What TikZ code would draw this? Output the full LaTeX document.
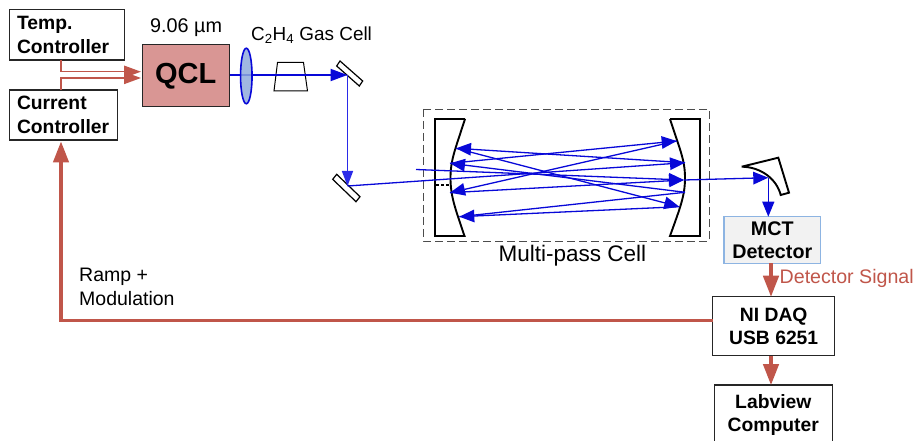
\documentclass[tikz,border=0pt]{standalone}
\usepackage{fontspec}
\setmainfont{Liberation Sans}
\usetikzlibrary{arrows.meta,calc,shapes.geometric}
\definecolor{redc}{HTML}{C0564A}
\definecolor{beam}{HTML}{0808D8}
\definecolor{beamlt}{HTML}{2A2AE8}
\definecolor{qclf}{HTML}{D99694}
\definecolor{lensf}{HTML}{8FAADC}
\definecolor{mctb}{HTML}{8DB4E2}
\tikzset{
 x=1pt,y=-1pt,
 boxn/.style={draw=black!85,line width=1.2pt,fill=white,font=\fontsize{19.3}{23.5}\selectfont\bfseries,inner sep=0pt,outer sep=0pt,anchor=north west},
 red arrow/.style={draw=redc,line width=3.2pt,-{Triangle[length=21pt,width=15.5pt]}},
 red thin/.style={draw=redc,line width=1.6pt,-{Triangle[length=17pt,width=12pt]}},
 ray/.style={draw=beam,line width=1.3pt},
 rayA/.style={ray,-{Triangle[length=15pt,width=12.5pt]}},
 lbl/.style={font=\fontsize{19.3}{23}\selectfont,inner sep=0pt,anchor=west,align=left},
 flat mirror/.style={draw=black,line width=1.2pt,fill=white},
 optic/.style={draw=black,line width=1.9pt},
}
\begin{document}
\begin{tikzpicture}
\useasboundingbox (0,0) rectangle (914,441);
\clip (0,0) rectangle (914,441);
% boxes
\node[boxn,minimum width=115pt,minimum height=50.5pt,align=left,text width=100pt,inner xsep=7.5pt] (temp) at (9.5,9.5) {Temp.\\Controller};
\node[boxn,minimum width=108pt,minimum height=50pt,align=left,text width=93pt,inner xsep=7.5pt] (cur) at (9.5,90) {Current\\Controller};
\node[draw=black!85,line width=1pt,fill=qclf,minimum width=87.5pt,minimum height=61.5pt,anchor=north west,font=\fontsize{29}{32}\selectfont\bfseries,inner sep=0pt,outer sep=0pt] (qcl) at (142,45) {QCL};
\node[lbl,font=\fontsize{19.8}{23}\selectfont] (wl) at (150,28) {9.06 µm};
\node[lbl,font=\fontsize{18.9}{22}\selectfont] (gas) at (251,35) {C\textsubscript{2}H\textsubscript{4} Gas Cell};
\node[boxn,draw=mctb,fill=black!5,minimum width=96.5pt,minimum height=46.5pt,align=center,font=\fontsize{19.7}{23.5}\selectfont\bfseries] (mct) at (724,216.7) {MCT\\[-.5pt]Detector};
\node[boxn,minimum width=122pt,minimum height=59pt,align=center] (daq) at (712.7,296.7) {NI DAQ\\USB 6251};
\node[boxn,minimum width=118pt,minimum height=60pt,align=center] (lab) at (714.3,385) {Labview\\Computer};
\node[lbl,text=redc,font=\fontsize{19.6}{23}\selectfont] (sig) at (779.5,278) {Detector Signal};
\node[lbl,font=\fontsize{19.5}{24}\selectfont] (ramp) at (79,287) {Ramp +\\Modulation};
\node[font=\fontsize{22.5}{26}\selectfont,inner sep=0pt] (mp) at (572.5,256) {Multi-pass Cell};
% red connectors
\coordinate (t1) at (61,60.5);
\coordinate (c1) at (61,90);
\coordinate (q1) at (141,71.7);
\coordinate (q2) at (141,78);
\coordinate (d1) at (713,320.5);
\coordinate (c2) at (61,141.5);
\draw[red thin] (t1) |- (q1);
\draw[red thin] (c1) |- (q2);
\draw[red arrow] (d1) -| (c2);
\draw[red arrow] (mct.south -| 771,0) -- (daq.north -| 771,0);
\draw[red arrow] (daq.south -| 771,0) -- (lab.north -| 771,0);
% multipass cell
\draw[draw=black!70,line width=.9pt,dash pattern=on 8pt off 4pt] (423,109) rectangle (709,241);
\draw[optic] (465,119) -- (435,119) -- (435,236) -- (464.5,236) .. controls (455,208) and (450.5,196) .. (450.5,178) .. controls (450.5,160) and (455,150) .. (465,119);
\draw[optic] (670,119) -- (700,119) -- (700,236) -- (670,236) .. controls (680,208) and (685,196) .. (685,178) .. controls (685,160) and (680,150) .. (670,119);
\draw[black,line width=1.2pt,dash pattern=on 3pt off 2pt] (436,185) -- (450,185);
\draw[black!50,line width=.8pt,dash pattern=on 3pt off 2pt] (436,170) -- (450,170);
% optics
\path[draw=black,line width=1pt] (277.5,62.5) -- (303.5,62.5) -- (307.5,91) -- (274,91) -- cycle;
\draw[flat mirror] (340,61) -- (362.7,81) -- (359.3,86) -- (336.7,66) -- cycle;
\draw[flat mirror] (336.7,174.3) -- (360,196.7) -- (356,201.7) -- (332.7,179.3) -- cycle;
\draw[optic,fill=white] (741.7,166.7) -- (778.3,157.7) -- (789,192.7) -- (780.7,195) .. controls (777,180) and (762,167) .. (741.7,166.7);
% rays
\coordinate (m1) at (347.5,75);
\coordinate (m2) at (347.5,186);
\coordinate (qo) at (229.5,75);
\coordinate (L1) at (456,148.3);
\coordinate (L2) at (450,163.3);
\coordinate (L3) at (450,192.7);
\coordinate (L4) at (459.3,216.7);
\coordinate (R1) at (676.7,141);
\coordinate (R2) at (685,162.7);
\coordinate (R3) at (684,180);
\coordinate (R4) at (685,192.3);
\coordinate (R5) at (679.3,206.7);
\coordinate (in2) at (416,169.5);
\coordinate (pm) at (768.3,177.7);
\coordinate (mt) at (768.3,216.7);
\draw[beam,line width=2pt,-{Triangle[length=17pt,width=12pt]}] (qo) -- (m1);
\draw[beamlt,line width=1.6pt,-{Triangle[length=15pt,width=11pt]}] (m1) -- (m2);
\draw[rayA] (m2) -- (R2);
\draw[rayA] (R2) -- (L1);
\draw[rayA] (L1) -- (R5);
\draw[rayA] (R5) -- (L4);
\draw[ray] (L4) -- (R4);
\draw[rayA] (R4) -- (L2);
\draw[rayA] (L2) -- (R1);
\draw[rayA] (R1) -- (L3);
\draw[rayA] (L3) -- (R3);
\draw[rayA] (in2) -- (R3);
\draw[rayA] (R3) -- (pm);
\draw[beam,line width=1.3pt,-{Triangle[length=15pt,width=12pt]}] (pm) -- (mt);
% lens on top of beam
\node[ellipse,draw=beam,line width=1.6pt,fill=lensf,fill opacity=.85,minimum width=11.5pt,minimum height=55.5pt,inner sep=0pt] (lens) at (246.3,76) {};
\end{tikzpicture}
\end{document}
